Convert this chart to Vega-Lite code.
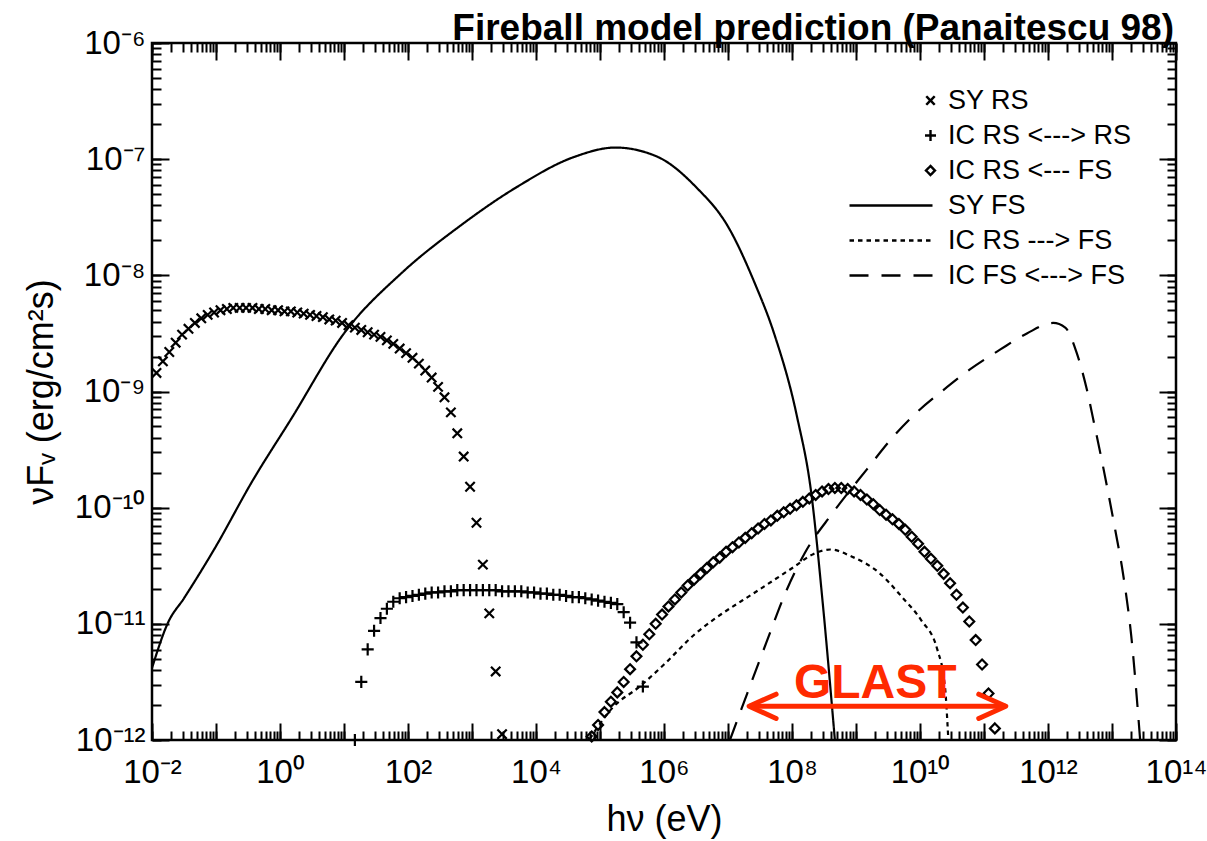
{
  "$schema": "https://vega.github.io/schema/vega-lite/v6.json",
  "width": 1024,
  "height": 697,
  "autosize": {"type": "none"},
  "padding": {"left": 152, "top": 43, "right": 31, "bottom": 101},
  "background": "white",
  "view": {"stroke": "black", "strokeWidth": 2.5},
  "config": {
    "font": "Liberation Sans, Arial, sans-serif",
    "legend": {
      "orient": "top-right",
      "offset": 44,
      "padding": 0,
      "rowPadding": 7,
      "labelFont": "Liberation Sans, Arial, sans-serif",
      "labelFontSize": 27,
      "labelColor": "black",
      "labelOffset": 4,
      "labelLimit": 0,
      "symbolSize": 100,
      "symbolStrokeWidth": 2.4,
      "symbolStrokeColor": "black",
      "symbolFillColor": "transparent"
    }
  },
  "title": {
    "text": "Fireball model prediction (Panaitescu 98)",
    "anchor": "end",
    "frame": "group",
    "font": "Liberation Sans, Arial, sans-serif",
    "fontSize": 37,
    "fontWeight": "bold",
    "color": "black",
    "offset": -21,
    "dx": -2
  },
  "datasets": {
    "markers": [
      {"series": "SY RS", "E": 1.175e-2, "F": 1.445e-9},
      {"series": "SY RS", "E": 1.479e-2, "F": 1.820e-9},
      {"series": "SY RS", "E": 1.862e-2, "F": 2.188e-9},
      {"series": "SY RS", "E": 2.344e-2, "F": 2.630e-9},
      {"series": "SY RS", "E": 2.951e-2, "F": 3.090e-9},
      {"series": "SY RS", "E": 3.715e-2, "F": 3.467e-9},
      {"series": "SY RS", "E": 4.677e-2, "F": 3.890e-9},
      {"series": "SY RS", "E": 5.888e-2, "F": 4.266e-9},
      {"series": "SY RS", "E": 7.413e-2, "F": 4.571e-9},
      {"series": "SY RS", "E": 9.333e-2, "F": 4.786e-9},
      {"series": "SY RS", "E": 0.1175, "F": 5.012e-9},
      {"series": "SY RS", "E": 0.1479, "F": 5.129e-9},
      {"series": "SY RS", "E": 0.1862, "F": 5.248e-9},
      {"series": "SY RS", "E": 0.2344, "F": 5.248e-9},
      {"series": "SY RS", "E": 0.2951, "F": 5.248e-9},
      {"series": "SY RS", "E": 0.3715, "F": 5.248e-9},
      {"series": "SY RS", "E": 0.4677, "F": 5.129e-9},
      {"series": "SY RS", "E": 0.5888, "F": 5.129e-9},
      {"series": "SY RS", "E": 0.7413, "F": 5.012e-9},
      {"series": "SY RS", "E": 0.9333, "F": 5.012e-9},
      {"series": "SY RS", "E": 1.175, "F": 4.898e-9},
      {"series": "SY RS", "E": 1.479, "F": 4.898e-9},
      {"series": "SY RS", "E": 1.862, "F": 4.786e-9},
      {"series": "SY RS", "E": 2.344, "F": 4.677e-9},
      {"series": "SY RS", "E": 2.951, "F": 4.571e-9},
      {"series": "SY RS", "E": 3.715, "F": 4.467e-9},
      {"series": "SY RS", "E": 4.677, "F": 4.365e-9},
      {"series": "SY RS", "E": 5.888, "F": 4.169e-9},
      {"series": "SY RS", "E": 7.413, "F": 4.074e-9},
      {"series": "SY RS", "E": 9.333, "F": 3.890e-9},
      {"series": "SY RS", "E": 11.75, "F": 3.715e-9},
      {"series": "SY RS", "E": 14.79, "F": 3.548e-9},
      {"series": "SY RS", "E": 18.62, "F": 3.388e-9},
      {"series": "SY RS", "E": 23.44, "F": 3.236e-9},
      {"series": "SY RS", "E": 29.51, "F": 3.090e-9},
      {"series": "SY RS", "E": 37.15, "F": 2.951e-9},
      {"series": "SY RS", "E": 46.77, "F": 2.754e-9},
      {"series": "SY RS", "E": 58.88, "F": 2.570e-9},
      {"series": "SY RS", "E": 74.13, "F": 2.344e-9},
      {"series": "SY RS", "E": 93.33, "F": 2.138e-9},
      {"series": "SY RS", "E": 117.5, "F": 1.950e-9},
      {"series": "SY RS", "E": 147.9, "F": 1.738e-9},
      {"series": "SY RS", "E": 186.2, "F": 1.514e-9},
      {"series": "SY RS", "E": 234.4, "F": 1.318e-9},
      {"series": "SY RS", "E": 295.1, "F": 1.096e-9},
      {"series": "SY RS", "E": 371.5, "F": 8.913e-10},
      {"series": "SY RS", "E": 467.7, "F": 6.607e-10},
      {"series": "SY RS", "E": 588.8, "F": 4.365e-10},
      {"series": "SY RS", "E": 741.3, "F": 2.754e-10},
      {"series": "SY RS", "E": 933.3, "F": 1.514e-10},
      {"series": "SY RS", "E": 1175, "F": 7.413e-11},
      {"series": "SY RS", "E": 1479, "F": 3.236e-11},
      {"series": "SY RS", "E": 1862, "F": 1.230e-11},
      {"series": "SY RS", "E": 2344, "F": 3.890e-12},
      {"series": "SY RS", "E": 2951, "F": 1.122e-12},

      {"series": "IC RS <---> RS", "E": 14.79, "F": 1.0e-12},
      {"series": "IC RS <---> RS", "E": 18.62, "F": 3.162e-12},
      {"series": "IC RS <---> RS", "E": 23.44, "F": 6.026e-12},
      {"series": "IC RS <---> RS", "E": 29.51, "F": 8.710e-12},
      {"series": "IC RS <---> RS", "E": 37.15, "F": 1.122e-11},
      {"series": "IC RS <---> RS", "E": 46.77, "F": 1.349e-11},
      {"series": "IC RS <---> RS", "E": 58.88, "F": 1.549e-11},
      {"series": "IC RS <---> RS", "E": 74.13, "F": 1.660e-11},
      {"series": "IC RS <---> RS", "E": 93.33, "F": 1.698e-11},
      {"series": "IC RS <---> RS", "E": 117.5, "F": 1.738e-11},
      {"series": "IC RS <---> RS", "E": 147.9, "F": 1.778e-11},
      {"series": "IC RS <---> RS", "E": 186.2, "F": 1.820e-11},
      {"series": "IC RS <---> RS", "E": 234.4, "F": 1.862e-11},
      {"series": "IC RS <---> RS", "E": 295.1, "F": 1.862e-11},
      {"series": "IC RS <---> RS", "E": 371.5, "F": 1.905e-11},
      {"series": "IC RS <---> RS", "E": 467.7, "F": 1.905e-11},
      {"series": "IC RS <---> RS", "E": 588.8, "F": 1.950e-11},
      {"series": "IC RS <---> RS", "E": 741.3, "F": 1.950e-11},
      {"series": "IC RS <---> RS", "E": 933.3, "F": 1.950e-11},
      {"series": "IC RS <---> RS", "E": 1175, "F": 1.950e-11},
      {"series": "IC RS <---> RS", "E": 1479, "F": 1.950e-11},
      {"series": "IC RS <---> RS", "E": 1862, "F": 1.950e-11},
      {"series": "IC RS <---> RS", "E": 2344, "F": 1.950e-11},
      {"series": "IC RS <---> RS", "E": 2951, "F": 1.905e-11},
      {"series": "IC RS <---> RS", "E": 3715, "F": 1.905e-11},
      {"series": "IC RS <---> RS", "E": 4677, "F": 1.905e-11},
      {"series": "IC RS <---> RS", "E": 5888, "F": 1.905e-11},
      {"series": "IC RS <---> RS", "E": 7413, "F": 1.862e-11},
      {"series": "IC RS <---> RS", "E": 9333, "F": 1.862e-11},
      {"series": "IC RS <---> RS", "E": 11750, "F": 1.820e-11},
      {"series": "IC RS <---> RS", "E": 14790, "F": 1.820e-11},
      {"series": "IC RS <---> RS", "E": 18620, "F": 1.778e-11},
      {"series": "IC RS <---> RS", "E": 23440, "F": 1.778e-11},
      {"series": "IC RS <---> RS", "E": 29510, "F": 1.738e-11},
      {"series": "IC RS <---> RS", "E": 37150, "F": 1.698e-11},
      {"series": "IC RS <---> RS", "E": 46770, "F": 1.698e-11},
      {"series": "IC RS <---> RS", "E": 58880, "F": 1.660e-11},
      {"series": "IC RS <---> RS", "E": 74130, "F": 1.622e-11},
      {"series": "IC RS <---> RS", "E": 93330, "F": 1.585e-11},
      {"series": "IC RS <---> RS", "E": 117500, "F": 1.549e-11},
      {"series": "IC RS <---> RS", "E": 147900, "F": 1.514e-11},
      {"series": "IC RS <---> RS", "E": 186200, "F": 1.479e-11},
      {"series": "IC RS <---> RS", "E": 234400, "F": 1.259e-11},
      {"series": "IC RS <---> RS", "E": 295100, "F": 1.023e-11},
      {"series": "IC RS <---> RS", "E": 371500, "F": 6.918e-12},
      {"series": "IC RS <---> RS", "E": 467700, "F": 2.884e-12},

      {"series": "IC RS <--- FS", "E": 74130, "F": 1.072e-12},
      {"series": "IC RS <--- FS", "E": 93330, "F": 1.349e-12},
      {"series": "IC RS <--- FS", "E": 117500, "F": 1.738e-12},
      {"series": "IC RS <--- FS", "E": 147900, "F": 2.138e-12},
      {"series": "IC RS <--- FS", "E": 186200, "F": 2.570e-12},
      {"series": "IC RS <--- FS", "E": 234400, "F": 3.162e-12},
      {"series": "IC RS <--- FS", "E": 295100, "F": 4.074e-12},
      {"series": "IC RS <--- FS", "E": 371500, "F": 5.248e-12},
      {"series": "IC RS <--- FS", "E": 467700, "F": 6.607e-12},
      {"series": "IC RS <--- FS", "E": 588800, "F": 8.128e-12},
      {"series": "IC RS <--- FS", "E": 741300, "F": 1.000e-11},
      {"series": "IC RS <--- FS", "E": 933300, "F": 1.202e-11},
      {"series": "IC RS <--- FS", "E": 1.175e6, "F": 1.413e-11},
      {"series": "IC RS <--- FS", "E": 1.479e6, "F": 1.622e-11},
      {"series": "IC RS <--- FS", "E": 1.862e6, "F": 1.862e-11},
      {"series": "IC RS <--- FS", "E": 2.344e6, "F": 2.138e-11},
      {"series": "IC RS <--- FS", "E": 2.951e6, "F": 2.399e-11},
      {"series": "IC RS <--- FS", "E": 3.715e6, "F": 2.692e-11},
      {"series": "IC RS <--- FS", "E": 4.677e6, "F": 3.020e-11},
      {"series": "IC RS <--- FS", "E": 5.888e6, "F": 3.388e-11},
      {"series": "IC RS <--- FS", "E": 7.413e6, "F": 3.715e-11},
      {"series": "IC RS <--- FS", "E": 9.333e6, "F": 4.169e-11},
      {"series": "IC RS <--- FS", "E": 1.175e7, "F": 4.571e-11},
      {"series": "IC RS <--- FS", "E": 1.479e7, "F": 5.012e-11},
      {"series": "IC RS <--- FS", "E": 1.862e7, "F": 5.495e-11},
      {"series": "IC RS <--- FS", "E": 2.344e7, "F": 6.026e-11},
      {"series": "IC RS <--- FS", "E": 2.951e7, "F": 6.607e-11},
      {"series": "IC RS <--- FS", "E": 3.715e7, "F": 7.244e-11},
      {"series": "IC RS <--- FS", "E": 4.677e7, "F": 7.762e-11},
      {"series": "IC RS <--- FS", "E": 5.888e7, "F": 8.511e-11},
      {"series": "IC RS <--- FS", "E": 7.413e7, "F": 9.120e-11},
      {"series": "IC RS <--- FS", "E": 9.333e7, "F": 9.772e-11},
      {"series": "IC RS <--- FS", "E": 1.175e8, "F": 1.047e-10},
      {"series": "IC RS <--- FS", "E": 1.479e8, "F": 1.122e-10},
      {"series": "IC RS <--- FS", "E": 1.862e8, "F": 1.202e-10},
      {"series": "IC RS <--- FS", "E": 2.344e8, "F": 1.288e-10},
      {"series": "IC RS <--- FS", "E": 2.951e8, "F": 1.380e-10},
      {"series": "IC RS <--- FS", "E": 3.715e8, "F": 1.445e-10},
      {"series": "IC RS <--- FS", "E": 4.677e8, "F": 1.479e-10},
      {"series": "IC RS <--- FS", "E": 5.888e8, "F": 1.479e-10},
      {"series": "IC RS <--- FS", "E": 7.413e8, "F": 1.445e-10},
      {"series": "IC RS <--- FS", "E": 9.333e8, "F": 1.380e-10},
      {"series": "IC RS <--- FS", "E": 1.175e9, "F": 1.288e-10},
      {"series": "IC RS <--- FS", "E": 1.479e9, "F": 1.175e-10},
      {"series": "IC RS <--- FS", "E": 1.862e9, "F": 1.072e-10},
      {"series": "IC RS <--- FS", "E": 2.344e9, "F": 9.550e-11},
      {"series": "IC RS <--- FS", "E": 2.951e9, "F": 8.710e-11},
      {"series": "IC RS <--- FS", "E": 3.715e9, "F": 7.943e-11},
      {"series": "IC RS <--- FS", "E": 4.677e9, "F": 7.244e-11},
      {"series": "IC RS <--- FS", "E": 5.888e9, "F": 6.457e-11},
      {"series": "IC RS <--- FS", "E": 7.413e9, "F": 5.623e-11},
      {"series": "IC RS <--- FS", "E": 9.333e9, "F": 4.898e-11},
      {"series": "IC RS <--- FS", "E": 1.175e10, "F": 4.169e-11},
      {"series": "IC RS <--- FS", "E": 1.479e10, "F": 3.631e-11},
      {"series": "IC RS <--- FS", "E": 1.862e10, "F": 3.162e-11},
      {"series": "IC RS <--- FS", "E": 2.344e10, "F": 2.692e-11},
      {"series": "IC RS <--- FS", "E": 2.951e10, "F": 2.239e-11},
      {"series": "IC RS <--- FS", "E": 3.715e10, "F": 1.778e-11},
      {"series": "IC RS <--- FS", "E": 4.677e10, "F": 1.380e-11},
      {"series": "IC RS <--- FS", "E": 5.888e10, "F": 1.047e-11},
      {"series": "IC RS <--- FS", "E": 7.413e10, "F": 7.244e-12},
      {"series": "IC RS <--- FS", "E": 9.333e10, "F": 4.467e-12},
      {"series": "IC RS <--- FS", "E": 1.175e11, "F": 2.512e-12},
      {"series": "IC RS <--- FS", "E": 1.479e11, "F": 1.259e-12}
    ],
    "curves": [
      {"series": "SY FS", "E": 0.01, "F": 4.169e-12},
      {"series": "SY FS", "E": 0.01778, "F": 1.023e-11},
      {"series": "SY FS", "E": 0.03162, "F": 1.660e-11},
      {"series": "SY FS", "E": 0.09333, "F": 4.365e-11},
      {"series": "SY FS", "E": 0.3802, "F": 1.738e-10},
      {"series": "SY FS", "E": 1.479, "F": 5.754e-10},
      {"series": "SY FS", "E": 10, "F": 3.162e-9},
      {"series": "SY FS", "E": 79.43, "F": 1.047e-8},
      {"series": "SY FS", "E": 631.0, "F": 2.630e-8},
      {"series": "SY FS", "E": 5012, "F": 5.754e-8},
      {"series": "SY FS", "E": 39810, "F": 1.047e-7},
      {"series": "SY FS", "E": 173800, "F": 1.259e-7},
      {"series": "SY FS", "E": 794300, "F": 1.047e-7},
      {"series": "SY FS", "E": 3.162e6, "F": 5.754e-8},
      {"series": "SY FS", "E": 1e7, "F": 2.630e-8},
      {"series": "SY FS", "E": 2.630e7, "F": 8.511e-9},
      {"series": "SY FS", "E": 5.248e7, "F": 3.162e-9},
      {"series": "SY FS", "E": 1.202e8, "F": 6.026e-10},
      {"series": "SY FS", "E": 1.995e8, "F": 1.349e-10},
      {"series": "SY FS", "E": 3.020e8, "F": 1.514e-11},
      {"series": "SY FS", "E": 4.677e8, "F": 1.0e-12},

      {"series": "IC RS ---> FS", "E": 69180, "F": 1.023e-12},
      {"series": "IC RS ---> FS", "E": 158500, "F": 1.905e-12},
      {"series": "IC RS ---> FS", "E": 416900, "F": 2.884e-12},
      {"series": "IC RS ---> FS", "E": 1.0e6, "F": 4.467e-12},
      {"series": "IC RS ---> FS", "E": 3.162e6, "F": 8.318e-12},
      {"series": "IC RS ---> FS", "E": 6.457e6, "F": 1.122e-11},
      {"series": "IC RS ---> FS", "E": 2.630e7, "F": 1.862e-11},
      {"series": "IC RS ---> FS", "E": 1.072e8, "F": 3.090e-11},
      {"series": "IC RS ---> FS", "E": 2.138e8, "F": 3.981e-11},
      {"series": "IC RS ---> FS", "E": 3.981e8, "F": 4.365e-11},
      {"series": "IC RS ---> FS", "E": 8.511e8, "F": 3.802e-11},
      {"series": "IC RS ---> FS", "E": 2.291e9, "F": 2.754e-11},
      {"series": "IC RS ---> FS", "E": 5.248e9, "F": 1.698e-11},
      {"series": "IC RS ---> FS", "E": 1.047e10, "F": 1.072e-11},
      {"series": "IC RS ---> FS", "E": 1.862e10, "F": 6.026e-12},
      {"series": "IC RS ---> FS", "E": 2.455e10, "F": 2.884e-12},
      {"series": "IC RS ---> FS", "E": 2.754e10, "F": 1.072e-12},

      {"series": "IC FS <---> FS", "E": 1.072e7, "F": 1.0e-12},
      {"series": "IC FS <---> FS", "E": 1.995e7, "F": 2.512e-12},
      {"series": "IC FS <---> FS", "E": 3.981e7, "F": 6.918e-12},
      {"series": "IC FS <---> FS", "E": 7.943e7, "F": 1.862e-11},
      {"series": "IC FS <---> FS", "E": 1.585e8, "F": 4.074e-11},
      {"series": "IC FS <---> FS", "E": 4.266e8, "F": 8.913e-11},
      {"series": "IC FS <---> FS", "E": 1.479e9, "F": 2.138e-10},
      {"series": "IC FS <---> FS", "E": 3.802e9, "F": 4.074e-10},
      {"series": "IC FS <---> FS", "E": 8.913e9, "F": 6.607e-10},
      {"series": "IC FS <---> FS", "E": 2.291e10, "F": 1.023e-9},
      {"series": "IC FS <---> FS", "E": 6.026e10, "F": 1.549e-9},
      {"series": "IC FS <---> FS", "E": 1.778e11, "F": 2.291e-9},
      {"series": "IC FS <---> FS", "E": 4.677e11, "F": 3.162e-9},
      {"series": "IC FS <---> FS", "E": 1.202e12, "F": 3.890e-9},
      {"series": "IC FS <---> FS", "E": 1.862e12, "F": 3.548e-9},
      {"series": "IC FS <---> FS", "E": 2.818e12, "F": 2.138e-9},
      {"series": "IC FS <---> FS", "E": 4.074e12, "F": 1.023e-9},
      {"series": "IC FS <---> FS", "E": 5.370e12, "F": 5.012e-10},
      {"series": "IC FS <---> FS", "E": 6.918e12, "F": 2.570e-10},
      {"series": "IC FS <---> FS", "E": 8.710e12, "F": 1.349e-10},
      {"series": "IC FS <---> FS", "E": 1.122e13, "F": 6.457e-11},
      {"series": "IC FS <---> FS", "E": 1.479e13, "F": 2.754e-11},
      {"series": "IC FS <---> FS", "E": 1.995e13, "F": 7.943e-12},
      {"series": "IC FS <---> FS", "E": 2.754e13, "F": 1.0e-12}
    ],
    "glast": [
      {"label": "GLAST", "E1": 2.138e7, "E2": 2.188e11, "F": 1.95e-12, "Etext": 2.0e9, "Ftext": 2.29e-12}
    ]
  },
  "resolve": {
    "scale": {"x": "shared", "y": "shared"},
    "axis": {"x": "independent", "y": "independent"}
  },
  "layer": [
    {
      "data": {"name": "curves"},
      "mark": {"type": "line", "color": "black", "strokeWidth": 2.2, "interpolate": "monotone"},
      "encoding": {
        "x": {"field": "E", "type": "quantitative", "scale": {"type": "log", "domain": [0.01, 1e14], "nice": false}, "axis": null},
        "y": {"field": "F", "type": "quantitative", "scale": {"type": "log", "domain": [1e-12, 1e-6], "nice": false}, "axis": null},
        "strokeDash": {
          "field": "series",
          "type": "nominal",
          "scale": {
            "domain": ["SY RS", "IC RS <---> RS", "IC RS <--- FS", "SY FS", "IC RS ---> FS", "IC FS <---> FS"],
            "range": [[1, 0], [1, 0], [1, 0], [1, 0], [4.5, 4], [19, 13]]
          },
          "legend": {"title": null}
        }
      }
    },
    {
      "data": {"name": "markers"},
      "mark": {"type": "point", "filled": false, "color": "black", "strokeWidth": 2.2, "size": 121, "opacity": 1},
      "encoding": {
        "x": {
          "field": "E",
          "type": "quantitative",
          "scale": {"type": "log", "domain": [0.01, 1e14], "nice": false},
          "axis": {
            "orient": "bottom",
            "title": "hν (eV)",
            "titleFont": "Liberation Sans, Arial, sans-serif",
            "titleFontSize": 36,
            "titleFontWeight": "normal",
            "titleColor": "black",
            "titlePadding": 13,
            "tickCount": 30,
            "tickSize": -9,
            "tickWidth": 2,
            "tickColor": "black",
            "domain": false,
            "grid": false,
            "labelFont": "Liberation Sans, Arial, sans-serif",
            "labelFontSize": 33,
            "labelColor": "black",
            "labelPadding": 25,
            "labelFlush": false,
            "labelOverlap": false,
            "labelBound": false,
            "labelExpr": "abs(log(datum.value)/LN10-round(log(datum.value)/LN10))>0.01 ? '' : round(log(datum.value)/LN10)==-2 ? '10⁻²' : round(log(datum.value)/LN10)==0 ? '10⁰' : round(log(datum.value)/LN10)==2 ? '10²' : round(log(datum.value)/LN10)==4 ? '10⁴' : round(log(datum.value)/LN10)==6 ? '10⁶' : round(log(datum.value)/LN10)==8 ? '10⁸' : round(log(datum.value)/LN10)==10 ? '10¹⁰' : round(log(datum.value)/LN10)==12 ? '10¹²' : round(log(datum.value)/LN10)==14 ? '10¹⁴' : ''"
          }
        },
        "y": {
          "field": "F",
          "type": "quantitative",
          "scale": {"type": "log", "domain": [1e-12, 1e-6], "nice": false},
          "axis": {
            "orient": "left",
            "title": "νFᵥ (erg/cm²s)",
            "titleFont": "Liberation Sans, Arial, sans-serif",
            "titleFontSize": 36,
            "titleFontWeight": "normal",
            "titleColor": "black",
            "titlePadding": 14,
            "tickCount": 30,
            "tickSize": -9,
            "tickWidth": 2,
            "tickColor": "black",
            "domain": false,
            "grid": false,
            "labelFont": "Liberation Sans, Arial, sans-serif",
            "labelFontSize": 33,
            "labelColor": "black",
            "labelPadding": 16,
            "labelFlush": false,
            "labelOverlap": false,
            "labelBound": false,
            "labelExpr": "abs(log(datum.value)/LN10-round(log(datum.value)/LN10))>0.01 ? '' : round(log(datum.value)/LN10)==-6 ? '10⁻⁶' : round(log(datum.value)/LN10)==-7 ? '10⁻⁷' : round(log(datum.value)/LN10)==-8 ? '10⁻⁸' : round(log(datum.value)/LN10)==-9 ? '10⁻⁹' : round(log(datum.value)/LN10)==-10 ? '10⁻¹⁰' : round(log(datum.value)/LN10)==-11 ? '10⁻¹¹' : round(log(datum.value)/LN10)==-12 ? '10⁻¹²' : ''"
          }
        },
        "shape": {
          "field": "series",
          "type": "nominal",
          "scale": {
            "domain": ["SY RS", "IC RS <---> RS", "IC RS <--- FS", "SY FS", "IC RS ---> FS", "IC FS <---> FS"],
            "range": [
              "M-0.85,-0.85L0.85,0.85M-0.85,0.85L0.85,-0.85",
              "M-1.1,0H1.1M0,-1.1V1.1",
              "M0,-0.9L0.9,0L0,0.9L-0.9,0Z",
              "M-16.2,0H0.4",
              "M-16.2,0H0.4",
              "M-16.2,0H0.4"
            ]
          },
          "legend": {"title": null}
        }
      }
    },
    {
      "data": {"name": "glast"},
      "mark": {"type": "rule", "color": "#ff2a00", "strokeWidth": 5},
      "encoding": {
        "x": {
          "field": "E1",
          "type": "quantitative",
          "scale": {"type": "log", "domain": [0.01, 1e14], "nice": false},
          "axis": {
            "orient": "bottom",
            "title": null,
            "labels": false,
            "domain": false,
            "grid": false,
            "values": [1e-2, 1e-1, 1, 10, 100, 1e3, 1e4, 1e5, 1e6, 1e7, 1e8, 1e9, 1e10, 1e11, 1e12, 1e13, 1e14],
            "tickSize": -17,
            "tickWidth": 2,
            "tickColor": "black"
          }
        },
        "x2": {"field": "E2"},
        "y": {
          "field": "F",
          "type": "quantitative",
          "scale": {"type": "log", "domain": [1e-12, 1e-6], "nice": false},
          "axis": {
            "orient": "left",
            "title": null,
            "labels": false,
            "domain": false,
            "grid": false,
            "values": [1e-12, 1e-11, 1e-10, 1e-9, 1e-8, 1e-7, 1e-6],
            "tickSize": -17,
            "tickWidth": 2,
            "tickColor": "black"
          }
        }
      }
    },
    {
      "data": {"name": "glast"},
      "mark": {"type": "point", "shape": "M2,-0.9L0,0L2,0.9", "size": 729, "filled": false, "color": "#ff2a00", "strokeWidth": 5, "strokeCap": "round", "strokeJoin": "round", "opacity": 1},
      "encoding": {
        "x": {
          "field": "E1",
          "type": "quantitative",
          "scale": {"type": "log", "domain": [0.01, 1e14], "nice": false},
          "axis": {
            "orient": "top",
            "title": null,
            "labels": false,
            "domain": false,
            "grid": false,
            "values": [1e-2, 1e-1, 1, 10, 100, 1e3, 1e4, 1e5, 1e6, 1e7, 1e8, 1e9, 1e10, 1e11, 1e12, 1e13, 1e14],
            "tickSize": -17,
            "tickWidth": 2,
            "tickColor": "black"
          }
        },
        "y": {
          "field": "F",
          "type": "quantitative",
          "scale": {"type": "log", "domain": [1e-12, 1e-6], "nice": false},
          "axis": {
            "orient": "right",
            "title": null,
            "labels": false,
            "domain": false,
            "grid": false,
            "values": [1e-12, 1e-11, 1e-10, 1e-9, 1e-8, 1e-7, 1e-6],
            "tickSize": -17,
            "tickWidth": 2,
            "tickColor": "black"
          }
        }
      }
    },
    {
      "data": {"name": "glast"},
      "mark": {"type": "point", "shape": "M-2,-0.9L0,0L-2,0.9", "size": 729, "filled": false, "color": "#ff2a00", "strokeWidth": 5, "strokeCap": "round", "strokeJoin": "round", "opacity": 1},
      "encoding": {
        "x": {"field": "E2", "type": "quantitative", "scale": {"type": "log", "domain": [0.01, 1e14], "nice": false}, "axis": null},
        "y": {"field": "F", "type": "quantitative", "scale": {"type": "log", "domain": [1e-12, 1e-6], "nice": false}, "axis": null}
      }
    },
    {
      "data": {"name": "glast"},
      "mark": {"type": "text", "color": "#ff2a00", "font": "Liberation Sans, Arial, sans-serif", "fontSize": 48, "fontWeight": "bold", "align": "center", "baseline": "alphabetic"},
      "encoding": {
        "x": {
          "field": "Etext",
          "type": "quantitative",
          "scale": {"type": "log", "domain": [0.01, 1e14], "nice": false},
          "axis": {
            "orient": "top",
            "title": null,
            "labels": false,
            "domain": false,
            "grid": false,
            "tickCount": 30,
            "tickSize": -9,
            "tickWidth": 2,
            "tickColor": "black"
          }
        },
        "y": {
          "field": "Ftext",
          "type": "quantitative",
          "scale": {"type": "log", "domain": [1e-12, 1e-6], "nice": false},
          "axis": {
            "orient": "right",
            "title": null,
            "labels": false,
            "domain": false,
            "grid": false,
            "tickCount": 30,
            "tickSize": -9,
            "tickWidth": 2,
            "tickColor": "black"
          }
        },
        "text": {"field": "label"}
      }
    }
  ]
}
